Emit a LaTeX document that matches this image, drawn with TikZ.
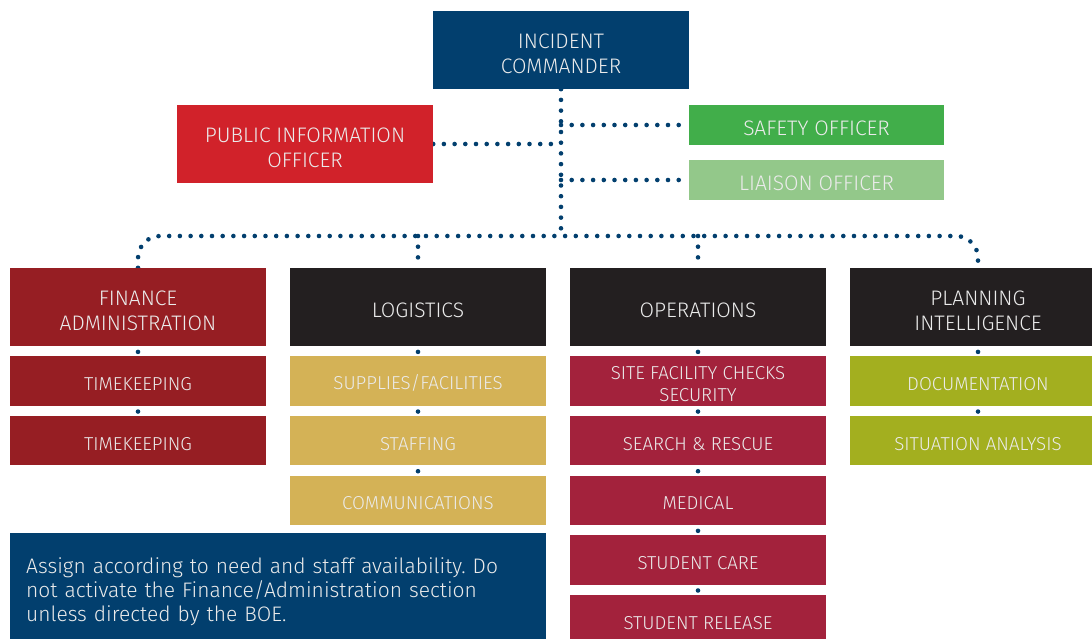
\documentclass[tikz,border=0pt]{standalone}
\usepackage{fontspec}
\setmainfont{Fira Sans}[UprightFont=* Light]
\usetikzlibrary{positioning,backgrounds}
\frenchspacing

\definecolor{icblue}{HTML}{023F6E}
\definecolor{pired}{HTML}{D1222A}
\definecolor{safegreen}{HTML}{41AE4A}
\definecolor{liaisongreen}{HTML}{93C88A}
\definecolor{finred}{HTML}{961E23}
\definecolor{nearblack}{HTML}{231F20}
\definecolor{loggold}{HTML}{D4B256}
\definecolor{opsred}{HTML}{A3223C}
\definecolor{planolive}{HTML}{A3AF1F}
\colorlet{boxtext}{white!92!black}

\begin{document}
\begin{tikzpicture}[x=1pt,y=-1pt,
  box/.style={inner sep=0pt, minimum width=256pt, align=center, text=boxtext,
    font=\fontsize{21}{25}\selectfont, execute at begin node={\rule{0pt}{1.03em}}},
  pair/.style={text height=46.5pt},
  head/.style={box, minimum height=78pt},
  sub/.style={box, minimum height=49.25pt, font=\fontsize{18.7}{22.3}\selectfont},
  officer/.style={box, minimum width=255pt, minimum height=40pt},
  dots/.style={icblue, line width=4.6pt, line cap=round, dash pattern=on 0pt off 10.7pt},
  gap/.style={dots, dash phase=5pt}]
\useasboundingbox (0,0) rectangle (1092,639);
\clip (0,0) rectangle (1092,639);

% command staff
\node[head, pair, fill=icblue] (ic) at (561,50) {INCIDENT\\COMMANDER};
\node[head, pair, fill=pired] (pio) at (305,144) {PUBLIC INFORMATION\\OFFICER};
\node[officer, fill=safegreen] (safety) at (816.5,125) {SAFETY OFFICER};
\node[officer, fill=liaisongreen] (liaison) at (816.5,180) {LIAISON OFFICER};

% sections
\node[head, pair, fill=finred] (fin) at (138,307) {FINANCE\\ADMINISTRATION};
\node[sub, fill=finred, below=10pt of fin] (fin1) {TIMEKEEPING};
\node[sub, fill=finred, below=10pt of fin1] (fin2) {TIMEKEEPING};

\node[head, fill=nearblack] (log) at (418,307) {LOGISTICS};
\node[sub, fill=loggold, below=10pt of log] (log1) {SUPPLIES/FACILITIES};
\node[sub, fill=loggold, below=10pt of log1] (log2) {STAFFING};
\node[sub, fill=loggold, below=10pt of log2] (log3) {COMMUNICATIONS};

\node[head, fill=nearblack] (ops) at (698,307) {OPERATIONS};
\node[sub, pair, text height=42pt, fill=opsred, below=10pt of ops] (ops1) {SITE FACILITY CHECKS\\SECURITY};
\node[sub, fill=opsred, below=10pt of ops1] (ops2) {SEARCH \& RESCUE};
\node[sub, fill=opsred, below=10pt of ops2] (ops3) {MEDICAL};
\node[sub, fill=opsred, below=10pt of ops3] (ops4) {STUDENT CARE};
\node[sub, fill=opsred, below=10pt of ops4] (ops5) {STUDENT RELEASE};

\node[head, pair, fill=nearblack] (plan) at (978,307) {PLANNING\\INTELLIGENCE};
\node[sub, fill=planolive, below=10pt of plan] (plan1) {DOCUMENTATION};
\node[sub, fill=planolive, below=10pt of plan1] (plan2) {SITUATION ANALYSIS};

% note
\fill[icblue] (10,533) rectangle (546,650);
\node[anchor=north west, inner sep=0pt, text width=520pt, align=left, text=boxtext,
  font=\fontsize{21}{24.2}\selectfont] (note) at (26,557)
  {Assign according to need and staff availability. Do\\
   not activate the Finance/Administration section\\
   unless directed by the BOE.};

% connectors
\begin{scope}[on background layer]
\coordinate (bus) at (ic.south |- 0,236);
\draw[dots] (ic.south) -- (bus);
\draw[dots] (ic.south |- safety.west) -- (safety.west);
\draw[dots] (pio.east) -- (ic.south |- pio.east);
\draw[dots] (ic.south |- liaison.west) -- (liaison.west);
\draw[dots, rounded corners=22pt] (fin.north) |- (bus) -| (plan.north);
\draw[dots] (log.north |- bus) -- (log.north);
\draw[dots] (ops.north |- bus) -- (ops.north);
\foreach \a/\b in {fin/fin1, fin1/fin2, log/log1, log1/log2, log2/log3,
    ops/ops1, ops1/ops2, ops2/ops3, ops3/ops4, ops4/ops5, plan/plan1, plan1/plan2}
  \draw[gap] (\a.south) -- (\b.north);
\end{scope}
\end{tikzpicture}
\end{document}
